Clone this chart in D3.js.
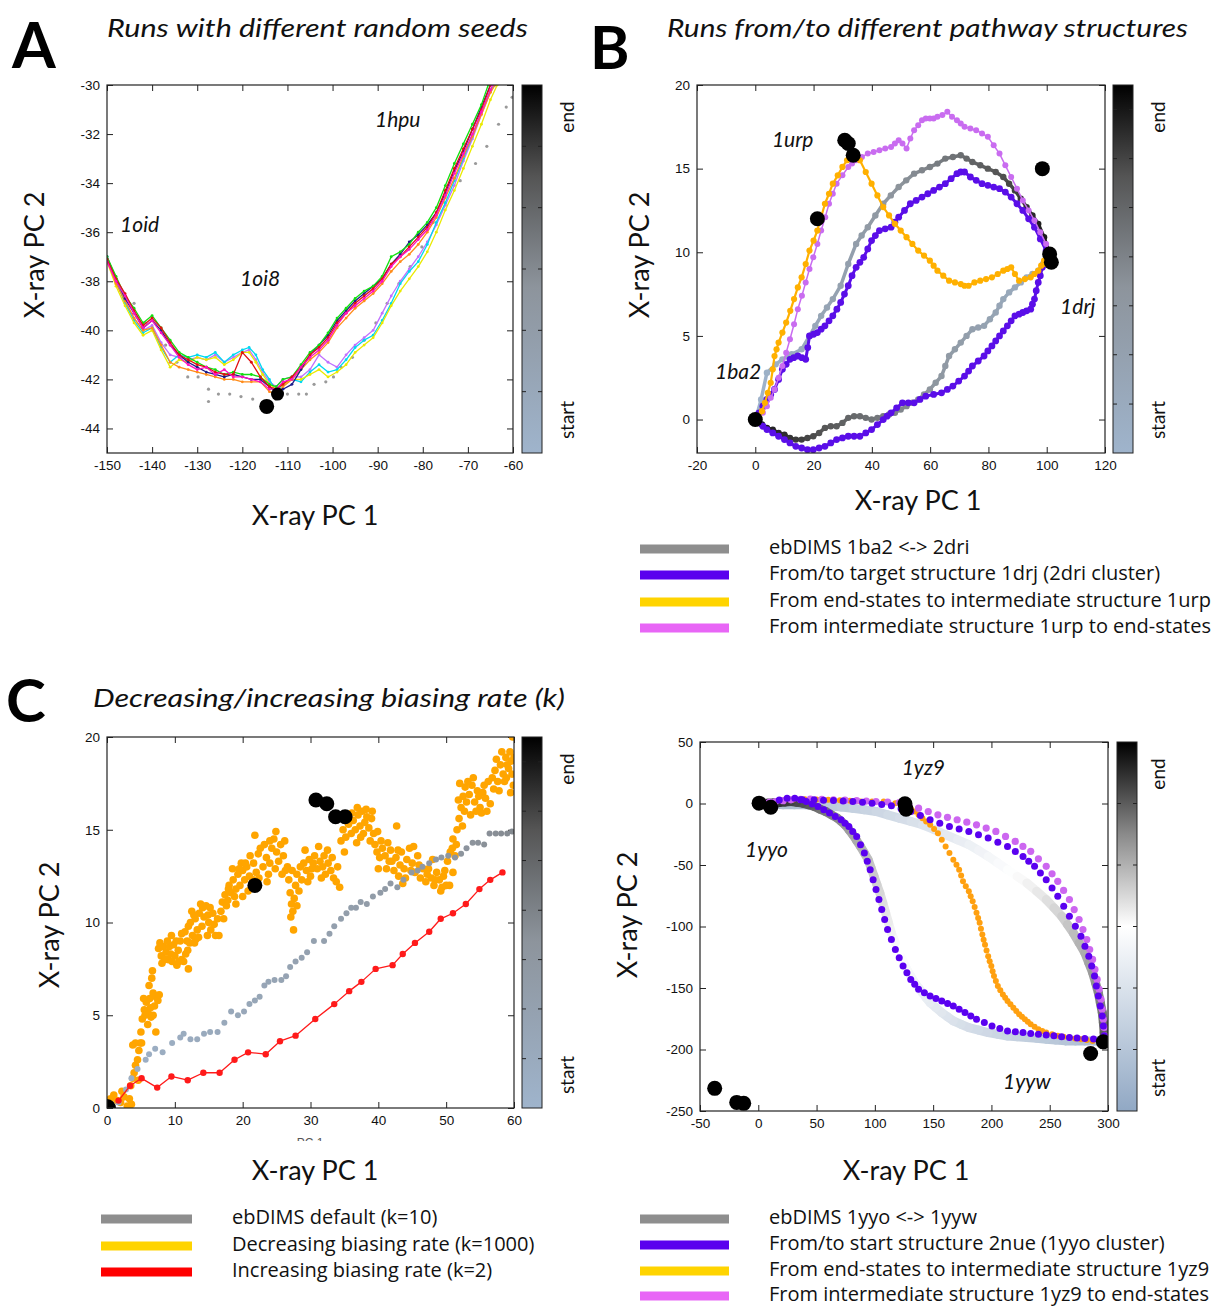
<!DOCTYPE html>
<html><head><meta charset="utf-8">
<script src="https://cdn.jsdelivr.net/npm/d3@7"></script>
<style>body{margin:0;background:#fff} svg{display:block}</style>
</head><body><svg id="c" width="1225" height="1306"></svg>
<script>
// ---------------- DATA ----------------
// Panel A ticks
const A_xTicks = [-150,-140,-130,-120,-110,-100,-90,-80,-70,-60];
const A_yTicks = [-44,-42,-40,-38,-36,-34,-32,-30];
// Panel A runs (random seeds)
const A_green = [[-150,-37.0],[-148,-37.8],[-146,-38.6],[-144,-39.1],[-142,-39.7],[-140,-39.4],[-138,-39.9],[-136,-40.4],[-134,-40.9],[-132,-41.1],[-130,-41.3],[-128,-41.5],[-126,-41.6],[-124,-41.8],[-122,-41.7],[-120,-41.8],[-118,-41.8],[-116,-41.9],[-114,-42.2],[-112.5,-42.3],[-111,-42.0],[-109,-41.9],[-107,-41.4],[-105,-40.9],[-103,-40.6],[-101,-40.1],[-99,-39.5],[-97,-39.1],[-95,-38.7],[-93,-38.4],[-91,-38.2],[-89,-37.8],[-87,-37.0],[-85,-36.8],[-83,-36.5],[-81,-36.0],[-79,-35.6],[-77,-35.0],[-75,-34.1],[-73,-33.2],[-71,-32.4],[-69,-31.6],[-67,-30.8],[-65.5,-30.0]];
const A_red = [[-150,-37.1],[-148,-37.9],[-146,-38.5],[-144,-39.2],[-142,-39.8],[-140,-39.5],[-138,-39.9],[-136,-40.5],[-134,-41.0],[-132,-41.2],[-130,-41.4],[-128,-41.5],[-126,-41.7],[-124,-41.8],[-122,-41.8],[-120,-40.9],[-118,-41.3],[-116,-41.9],[-114,-42.3],[-112.5,-42.4],[-111,-42.2],[-109,-41.9],[-107,-41.5],[-105,-41.0],[-103,-40.7],[-101,-40.3],[-99,-39.7],[-97,-39.3],[-95,-38.9],[-93,-38.6],[-91,-38.3],[-89,-37.9],[-87,-37.3],[-85,-37.0],[-83,-36.6],[-81,-36.2],[-79,-35.8],[-77,-35.2],[-75,-34.3],[-73,-33.4],[-71,-32.6],[-69,-31.8],[-67,-31.0],[-65,-30.0]];
const A_navy = [[-150,-37.0],[-148,-37.9],[-146,-38.7],[-144,-39.3],[-142,-39.9],[-140,-39.6],[-138,-40.0],[-136,-40.6],[-134,-41.0],[-132,-41.3],[-130,-41.5],[-128,-41.7],[-126,-41.8],[-124,-41.9],[-122,-41.8],[-120,-41.9],[-118,-42.0],[-116,-42.0],[-114,-42.3],[-112.5,-42.5],[-111,-42.4],[-109,-42.2],[-107,-41.6],[-105,-41.0],[-103,-40.6],[-101,-40.2],[-99,-39.6],[-97,-39.2],[-95,-38.8],[-93,-38.5],[-91,-38.2],[-89,-37.9],[-87,-37.3],[-85,-36.9],[-83,-36.4],[-81,-36.1],[-79,-35.7],[-77,-35.2],[-75,-34.4],[-73,-33.5],[-71,-32.7],[-69,-31.8],[-67,-30.9],[-65,-30.0]];
const A_magenta = [[-150,-37.2],[-148,-38.0],[-146,-38.6],[-144,-39.3],[-142,-39.9],[-140,-39.6],[-138,-40.1],[-136,-40.6],[-134,-41.1],[-132,-41.4],[-130,-41.6],[-128,-41.5],[-126,-41.8],[-124,-41.6],[-122,-41.9],[-120,-41.9],[-118,-42.0],[-116,-42.1],[-114,-42.4],[-112.5,-42.4],[-111,-42.1],[-109,-42.0],[-107,-41.5],[-105,-41.1],[-103,-40.8],[-101,-40.4],[-99,-39.8],[-97,-39.3],[-95,-39.0],[-93,-38.7],[-91,-38.4],[-89,-38.0],[-87,-37.4],[-85,-37.0],[-83,-36.7],[-81,-36.3],[-79,-35.9],[-77,-35.3],[-75,-34.5],[-73,-33.6],[-71,-32.8],[-69,-32.0],[-67,-31.1],[-65,-30.2],[-64.5,-30.0]];
const A_orange = [[-150,-37.1],[-148,-38.1],[-146,-38.8],[-144,-39.5],[-142,-40.0],[-140,-39.9],[-138,-40.6],[-136,-41.3],[-134,-41.5],[-132,-41.6],[-130,-41.7],[-128,-41.8],[-126,-41.9],[-124,-42.0],[-122,-42.0],[-120,-42.1],[-118,-42.1],[-116,-42.1],[-114,-42.5],[-112.5,-42.6],[-111,-42.3],[-109,-42.0],[-107,-41.6],[-105,-41.2],[-103,-40.9],[-101,-40.5],[-99,-39.9],[-97,-39.5],[-95,-39.1],[-93,-38.8],[-91,-38.5],[-89,-38.1],[-87,-37.6],[-85,-37.2],[-83,-36.9],[-81,-36.5],[-79,-36.0],[-77,-35.4],[-75,-34.6],[-73,-33.8],[-71,-32.9],[-69,-32.1],[-67,-31.2],[-65,-30.3],[-64,-30.0]];
const A_violet = [[-150,-37.1],[-148,-38.0],[-146,-38.8],[-144,-39.5],[-142,-40.0],[-140,-39.8],[-138,-40.5],[-136,-41.0],[-134,-41.1],[-132,-41.2],[-130,-41.1],[-128,-41.2],[-126,-41.0],[-124,-41.3],[-122,-41.1],[-120,-40.9],[-118.5,-40.8],[-117,-41.2],[-115.5,-41.7],[-114,-42.1],[-112.5,-42.3],[-111,-42.0],[-109,-41.9],[-107,-41.9],[-105,-41.6],[-103,-41.0],[-101,-41.3],[-99,-41.5],[-97,-41.0],[-95,-40.6],[-93,-40.3],[-91,-40.0],[-89,-39.3],[-87,-38.6],[-85,-38.0],[-83,-37.5],[-81,-37.0],[-79,-36.4],[-77,-35.7],[-75,-34.9],[-73,-34.1],[-71,-33.1],[-69,-32.2],[-67,-31.2],[-65,-30.3],[-64,-30.0]];
const A_cyan = [[-150,-37.0],[-148,-38.0],[-146,-38.9],[-144,-39.6],[-142,-40.1],[-140,-39.9],[-138,-40.7],[-136,-41.3],[-134,-41.0],[-132,-41.1],[-130,-41.0],[-128,-41.1],[-126,-40.9],[-124,-41.3],[-122,-41.0],[-120,-40.8],[-118.5,-40.7],[-117,-41.0],[-115.5,-41.6],[-114,-42.0],[-112.5,-42.5],[-111,-42.2],[-109,-42.0],[-107,-42.1],[-105,-41.7],[-103,-41.4],[-101,-41.7],[-99,-41.6],[-97,-41.2],[-95,-40.7],[-93,-40.4],[-91,-40.2],[-89,-39.6],[-87,-38.9],[-85,-38.1],[-83,-37.6],[-81,-37.2],[-79,-36.5],[-77,-35.6],[-75,-34.8],[-73,-33.9],[-71,-33.0],[-69,-32.1],[-67,-31.1],[-65,-30.2],[-64,-30.0]];
const A_yellow = [[-150,-37.2],[-148,-38.2],[-146,-39.0],[-144,-39.7],[-142,-40.2],[-140,-40.0],[-138,-40.8],[-136,-41.5],[-134,-41.2],[-132,-41.3],[-130,-41.1],[-128,-41.2],[-126,-41.1],[-124,-41.4],[-122,-41.2],[-120,-40.9],[-118.5,-40.9],[-117,-41.3],[-115.5,-41.8],[-114,-42.2],[-112.5,-42.4],[-111,-42.2],[-109,-42.0],[-107,-42.0],[-105,-41.8],[-103,-41.6],[-101,-41.9],[-99,-41.7],[-97,-41.4],[-95,-40.9],[-93,-40.6],[-91,-40.3],[-89,-39.7],[-87,-39.0],[-85,-38.4],[-83,-37.9],[-81,-37.4],[-79,-36.8],[-77,-36.0],[-75,-35.1],[-73,-34.3],[-71,-33.4],[-69,-32.5],[-67,-31.6],[-65,-30.6],[-63.5,-30.0]];
const A_grayDots = [[-144,-38.9],[-141.5,-39.7],[-139.8,-40.0],[-137,-40.6],[-134.5,-41.3],[-132.1,-41.9],[-129.8,-41.9],[-127.5,-42.4],[-127.5,-42.9],[-125.3,-42.6],[-122.8,-42.6],[-120.3,-42.7],[-117.7,-42.8],[-115.1,-42.9],[-112.6,-42.8],[-110,-42.6],[-107.5,-42.6],[-105.8,-42.6],[-104.1,-42.2],[-101.5,-42.1],[-99.8,-41.9],[-98.1,-41.5],[-95.6,-41.1],[-93,-40.4],[-90.4,-39.7],[-87.9,-38.9],[-85.3,-38.1],[-82.8,-37.4],[-80.2,-36.6],[-77.7,-35.6],[-75.1,-34.8],[-71.7,-33.9],[-68.3,-33.2],[-65.8,-32.5],[-63.2,-31.6],[-61.5,-30.9],[-60.2,-30.5]];
const A_structs = [[-114.6,-43.1,7.5],[-112.2,-42.6,6.5]];
const A_labels = [["1hpu",-90.6,-31.7],["1oid",-147.1,-36.0],["1oi8",-120.5,-38.2]];

// Panel B
const B_xTicks = [-20,0,20,40,60,80,100,120];
const B_yTicks = [0,5,10,15,20];
const B_grayUp = [[0.6,0.3],[2,1.2],[4,2.8],[7,3.3],[9.3,3.6],[12.5,3.9],[15.9,4.2],[18.6,5.0],[20.6,5.6],[22.6,6.2],[24.6,6.7],[26.6,7.2],[29.3,8.0],[31.9,9.3],[34.6,10.5],[36.5,11.0],[38.6,11.5],[41.2,12.2],[43.9,12.9],[46.5,13.4],[49.2,13.9],[51.8,14.3],[54.5,14.7],[57.2,14.9],[59.9,15.1],[62.5,15.3],[65.2,15.6],[67.8,15.7],[70.5,15.8],[72.5,15.6],[74.5,15.4],[77.2,15.2],[79.8,15.0],[82.5,14.8],[85.1,14.5],[87.1,14.1],[89.1,13.7],[91.1,13.2],[93.1,12.7],[95.1,12.2],[97.1,11.7],[99.1,10.9],[100.6,10.1]];
const B_grayLow = [[100.3,9.7],[98.7,9.3],[97.1,8.9],[95.1,8.7],[93.1,8.5],[91.1,8.2],[89.1,7.9],[87.1,7.6],[85.1,7.2],[83.8,6.8],[82.5,6.4],[80.5,6.0],[78.5,5.6],[76.5,5.5],[74.5,5.4],[72.5,5.0],[70.5,4.6],[68.5,4.2],[66.5,3.8],[65.2,3.2],[63.9,2.6],[61.9,2.2],[59.9,1.8],[57.9,1.5],[55.9,1.2],[53.9,1.0],[51.9,0.8],[49.9,0.6],[47.9,0.4],[45.9,0.3],[43.9,0.2],[41.9,0.1],[39.9,0.0],[37.9,0.1],[35.9,0.2],[33.9,0.2],[31.9,0.1],[29.9,-0.2],[27.9,-0.4],[25.9,-0.4],[23.9,-0.5],[21.9,-0.8],[19.9,-1.0],[17.9,-1.1],[15.9,-1.2],[13.9,-1.2],[11.9,-1.1],[10,-0.9],[8,-0.8],[6,-0.6],[4,-0.5],[2.3,-0.3],[0.6,-0.2]];
const B_purpleUp = [[1.3,0.4],[2.6,0.8],[4,1.2],[5.3,1.5],[6.6,1.8],[8,2.4],[9.3,3.0],[10.6,3.3],[11.9,3.6],[13.2,3.7],[14.6,3.8],[16,3.7],[17.3,3.6],[18,4.3],[18.6,5.0],[20,5.1],[21.3,5.2],[22.6,5.4],[23.9,5.6],[25.3,5.9],[26.6,6.2],[28,6.6],[29.3,7.0],[30.6,7.5],[31.9,8.0],[33.2,8.6],[34.6,9.1],[35.9,9.4],[37.2,9.7],[38.6,10.2],[39.9,10.7],[41.2,11.0],[42.6,11.3],[44.6,11.4],[46.6,11.5],[47.9,11.8],[49.2,12.1],[51.2,12.5],[53.2,12.9],[55.2,13.1],[57.2,13.3],[59.2,13.5],[61.2,13.7],[63.2,13.9],[65.2,14.1],[67.2,14.4],[69.2,14.7],[70.5,14.8],[71.8,14.8],[73.8,14.5],[75.8,14.3],[77.8,14.1],[79.8,14.0],[81.8,13.9],[83.8,13.8],[85.8,13.6],[87.8,13.3],[89.8,12.9],[91.8,12.5],[93.8,12.0],[95.8,11.5],[97.8,10.8],[99.8,10.1],[101.1,9.5]];
const B_purpleLow = [[99.8,9.3],[98.5,9.1],[97.8,8.6],[97.1,8.2],[96.4,7.7],[95.8,7.2],[95.1,6.9],[94.5,6.6],[93.1,6.5],[91.8,6.4],[90.5,6.3],[89.1,6.2],[87.8,5.9],[86.5,5.6],[85.1,5.3],[83.8,5.0],[82.5,4.7],[81.2,4.4],[79.8,4.1],[78.5,3.8],[76.5,3.5],[74.5,3.2],[73.2,2.9],[71.8,2.6],[69.8,2.3],[67.8,2.0],[65.9,1.8],[63.9,1.6],[61.2,1.5],[58.5,1.4],[56.5,1.2],[54.5,1.0],[52.5,1.0],[50.5,1.0],[48.5,0.7],[46.6,0.4],[45.2,0.2],[43.9,0.0],[41.9,-0.3],[39.9,-0.6],[37.9,-0.8],[35.9,-1.0],[33.9,-1.0],[31.9,-1.0],[29.9,-1.1],[27.9,-1.2],[25.9,-1.4],[23.9,-1.6],[21.9,-1.7],[19.9,-1.8],[17.9,-1.8],[15.9,-1.7],[13.9,-1.6],[11.9,-1.4],[10,-1.2],[8,-1.0],[6,-0.8],[4,-0.6],[2.6,-0.4],[1.3,-0.2]];
const B_orange = [[1.3,0.1],[2.3,0.5],[3.3,1.0],[4.3,1.6],[5.3,2.2],[6,3.0],[6.6,3.8],[7.3,4.2],[8,4.6],[9.3,5.2],[10.6,5.8],[12,6.5],[13.3,7.2],[14.6,7.9],[15.9,8.5],[17.3,9.3],[18.6,10.1],[20,10.7],[21.3,11.3],[22.6,12.1],[23.9,12.9],[25.3,13.5],[26.6,14.1],[28.3,14.6],[29.9,15.1],[31.5,15.5],[33.2,15.8],[34.6,15.7],[35.9,15.5],[37.9,14.8],[39.9,14.1],[41.9,13.4],[43.9,12.7],[45.9,12.2],[47.9,11.7],[49.9,11.3],[51.9,10.9],[53.9,10.5],[55.9,10.1],[57.9,9.8],[59.9,9.5],[61.2,9.2],[62.5,8.9],[64.5,8.6],[66.5,8.3],[68.5,8.2],[70.5,8.1],[71.8,8.0],[73.2,8.0],[75.2,8.2],[77.2,8.3],[79.2,8.4],[81.2,8.5],[83.2,8.7],[85.1,8.9],[86.5,9.0],[87.8,9.1],[89.1,8.7],[90.5,8.3],[92.5,8.4],[94.5,8.5],[95.8,8.7],[97.1,8.9],[98.1,9.2],[99.1,9.5],[99.8,9.3]];
const B_pink = [[2.6,0.4],[4,0.8],[5.3,1.3],[6.6,1.8],[8,2.5],[9.3,3.2],[10.6,4.0],[11.9,4.8],[13.3,5.7],[14.6,6.6],[16,7.4],[17.3,8.2],[18.6,9.0],[19.9,9.7],[21.3,10.5],[22.6,11.3],[24,12.1],[25.3,12.9],[26.6,13.5],[27.9,14.1],[29.9,14.6],[31.9,15.1],[33.2,15.3],[34.6,15.5],[36.6,15.7],[38.6,15.9],[40.6,16.0],[42.6,16.1],[44.6,16.2],[46.6,16.3],[47.9,16.5],[49.2,16.7],[50.5,16.5],[51.9,16.2],[53.2,16.8],[54.5,17.3],[55.9,17.6],[57.2,17.9],[58.5,18.0],[59.9,18.0],[61.2,18.0],[62.5,18.1],[64.2,18.2],[65.9,18.4],[67.5,18.1],[69.2,17.9],[70.5,17.7],[71.8,17.5],[73.8,17.4],[75.8,17.3],[77.8,17.1],[79.8,16.9],[81.8,16.4],[83.8,15.9],[85.8,15.2],[87.8,14.5],[89.8,13.8],[91.8,13.1],[93.8,12.5],[95.8,11.9],[97.8,11.2],[99.8,10.5],[101.1,10.0]];
const B_structs = [[30.7,16.7],[31.9,16.5],[33.6,15.8],[21.3,12.0],[98.5,15.0],[101,9.9],[101.6,9.4],[0,0]];
const B_labels = [["1urp",5.7,16.3],["1drj",104.6,6.3],["1ba2",-13.8,2.4]];
const B_legend = ["ebDIMS 1ba2 <-> 2dri","From/to target structure 1drj (2dri cluster)","From end-states to intermediate structure 1urp","From intermediate structure 1urp to end-states"];

// Panel C
const C_xTicks = [0,10,20,30,40,50,60];
const C_yTicks = [0,5,10,15,20];
const C_red = [[1.7,0.4],[3.4,1.2],[5.1,1.6],[7.4,1.1],[9.5,1.7],[11.9,1.5],[14.2,1.9],[16.6,1.9],[18.8,2.6],[20.8,3.0],[23.4,2.9],[25.5,3.6],[27.8,3.9],[30.7,4.8],[33.5,5.6],[35.7,6.3],[37.5,6.8],[39.6,7.5],[42.1,7.7],[43.6,8.3],[45.4,8.9],[47.5,9.5],[49.2,10.2],[51.0,10.5],[52.9,11.0],[54.9,11.8],[56.5,12.3],[58.3,12.7]];
const C_gray = [[1.7,0.3],[2.8,1.0],[3.6,1.6],[4.5,2.1],[5.7,2.6],[6.2,2.9],[7.1,3.2],[8.2,3.0],[9.6,3.5],[10.8,3.8],[11.3,4.0],[12.3,3.7],[13.3,3.7],[14.3,4.0],[15.2,4.1],[16.3,4.1],[17.3,4.6],[18.3,5.2],[19.3,5.0],[20.2,5.2],[21.0,5.6],[21.8,5.8],[22.5,6.0],[23.2,6.6],[23.8,6.8],[24.7,6.9],[25.7,6.9],[26.4,7.1],[27.0,7.6],[27.8,7.9],[28.7,8.1],[29.5,8.4],[30.5,9.0],[32.0,9.0],[32.8,9.4],[33.5,9.8],[34.5,10.2],[35.3,10.5],[36.0,10.8],[36.7,10.8],[37.4,11.1],[38.3,11.0],[39.2,11.4],[40.3,11.6],[41.0,11.8],[41.8,12.1],[42.8,11.9],[43.7,12.3],[44.9,12.7],[45.8,12.8],[46.5,13.0],[47.5,13.2],[48.5,13.4],[49.3,13.5],[50.3,13.6],[51.3,13.5],[52.2,13.7],[53.0,14.0],[53.9,14.3],[54.7,14.3],[55.6,14.2],[56.4,14.8],[57.3,14.8],[58.1,14.8],[59.0,14.8],[59.7,14.9]];
const C_orange = [[0.5,0.5],[1,0.7],[1.5,0.4],[2,0.3],[2.5,0.6],[3,0.1],[3.3,0.5],[3.6,0.2],[3.2,0.0],[2.2,0.9],[3.5,1.2],[3.8,1.6],[4.0,1.9],[4.2,2.3],[4.5,2.6],[4.7,3.1],[4.9,3.5],[3.8,3.4],[4.2,3.5],[5.0,4.1],[5.1,3.5],[4.6,1.5],[5.2,4.8],[5.5,5.3],[5.8,5.7],[6.0,5.2],[6.3,5.9],[6.5,4.9],[6.8,6.2],[7.0,5.5],[7.2,6.0],[6.0,4.5],[6.2,6.6],[6.8,5.0],[7.5,5.8],[5.6,5.0],[6.6,7.0],[6.7,7.4],[7.7,6.1],[7.2,4.1],[5.4,5.9],[6.4,5.4],[7.6,8.6],[7.8,8.9],[8.0,8.2],[8.3,8.7],[8.7,8.4],[9.0,8.0],[9.2,8.7],[9.5,9.3],[9.8,8.8],[10.0,8.2],[10.3,7.7],[10.5,8.5],[10.8,9.0],[11.0,8.0],[11.3,7.9],[11.6,8.3],[12.0,7.5],[11.0,9.4],[12.2,8.9],[10.6,7.9],[11.9,8.5],[8.5,8.0],[9.4,8.3],[11.5,9.5],[12.0,9.8],[12.3,10.0],[12.6,9.3],[13.0,10.2],[13.3,9.6],[13.6,10.5],[14.0,9.8],[14.3,10.3],[14.6,10.9],[15.0,10.0],[15.3,9.6],[14.8,9.3],[15.6,10.5],[16.0,9.3],[16.5,9.3],[13.8,11.0],[12.5,10.6],[15.2,10.8],[13.1,9.1],[16.8,10.6],[17.0,11.1],[17.4,11.5],[17.8,11.2],[18.0,12.0],[18.3,11.6],[18.6,12.3],[19.0,11.8],[19.3,12.6],[19.6,12.0],[20.0,12.8],[20.3,12.3],[20.6,13.0],[21.0,12.5],[21.3,11.9],[21.6,13.2],[22.0,12.7],[19.0,11.0],[20.0,11.4],[18.5,12.9],[22.3,13.7],[21.8,14.7],[22.6,14.0],[17.6,10.9],[20.8,11.7],[19.8,13.2],[23.0,13.0],[23.5,13.5],[24.0,13.2],[24.3,14.0],[24.6,14.5],[25.0,13.8],[25.3,13.3],[25.6,14.2],[26.0,13.6],[26.3,12.8],[26.6,13.0],[24.8,12.9],[23.8,12.6],[24.0,14.4],[26.8,12.3],[27.0,11.6],[27.2,11.0],[27.4,10.6],[27.6,11.3],[27.8,12.0],[28.0,12.6],[28.3,11.7],[28.5,13.0],[27.5,9.6],[27.3,12.8],[28.0,10.9],[27.1,10.3],[29.0,13.2],[29.4,12.8],[29.8,13.4],[30.2,12.9],[30.6,13.6],[31.0,12.9],[31.4,13.3],[31.8,13.0],[32.2,12.6],[32.6,13.2],[33.0,12.8],[33.4,12.4],[33.8,12.2],[31.2,14.1],[32.5,13.9],[34.3,11.9],[30.0,12.5],[34.5,14.4],[34.8,15.0],[35.2,14.6],[35.6,15.3],[36.0,14.8],[36.3,15.5],[36.6,15.0],[37.0,15.8],[37.3,15.2],[37.6,16.0],[38.0,15.4],[38.3,15.7],[38.6,15.1],[39.0,15.6],[39.3,14.8],[35.0,13.8],[36.8,14.3],[38.8,14.4],[37.8,14.8],[39.5,14.2],[39.8,13.8],[40.2,13.5],[40.6,14.0],[41.0,13.6],[41.4,14.3],[41.8,13.9],[40.0,12.9],[41.2,12.9],[42.0,13.3],[42.3,12.8],[42.6,13.5],[43.0,12.5],[43.4,13.8],[43.8,12.9],[44.2,13.4],[44.6,14.0],[45.0,13.2],[45.4,12.7],[45.8,13.6],[46.2,12.4],[46.6,12.9],[42.7,15.2],[43.6,12.1],[47.0,12.2],[47.4,12.9],[47.8,12.4],[48.2,12.0],[48.6,12.7],[49.0,12.3],[49.4,11.9],[49.8,12.8],[50.2,13.3],[48.0,13.4],[50.5,12.0],[49.2,11.7],[50.6,13.8],[51.0,14.5],[51.3,13.6],[51.6,15.0],[51.9,15.6],[52.2,16.2],[52.5,16.8],[51.8,16.6],[52.8,17.3],[53.0,16.5],[52.4,15.2],[51.0,12.7],[52.0,17.5],[53.4,16.9],[53.8,17.4],[54.2,16.5],[54.6,17.1],[55.0,16.2],[55.4,17.0],[55.8,16.7],[56.2,17.6],[54.0,17.8],[55.2,15.9],[56.5,16.4],[53.6,15.8],[56.8,17.8],[57.2,18.2],[57.6,17.6],[58.0,18.5],[58.4,18.0],[58.8,18.9],[59.2,18.3],[59.6,18.7],[59.9,17.4],[59.5,17.0],[58.2,19.2],[59.8,20.0],[57.8,17.1],[58.9,17.8],[59.4,19.2],
  [12.8,10.4],[13.5,9.2],[14.1,10.8],[14.9,10.4],[15.8,9.9],[16.3,10.2],[11.8,9.0],[12.9,8.9],[10.2,9.0],[9.6,7.9],[8.9,9.0],[8.1,7.8],[17.2,10.2],[17.9,11.8],[18.8,11.4],[19.5,12.9],[20.4,13.2],[21.1,13.6],[21.5,12.3],[22.4,12.4],[23.2,14.2],[23.6,12.2],[24.9,14.9],[25.8,12.6],[26.2,14.4],[28.7,12.3],[29.2,13.9],[29.6,12.2],[30.4,13.2],[31.6,12.4],[32.0,13.6],[33.2,13.5],[34.0,13.0],[35.4,15.8],[36.1,15.9],[36.9,16.2],[37.4,14.6],[38.2,16.1],[39.1,16.0],[39.9,14.9],[40.4,14.4],[41.6,13.3],[42.9,13.9],[43.2,13.1],[44.0,12.4],[44.8,12.8],[45.2,14.1],[46.0,13.1],[47.2,12.6],[48.4,12.3],[49.6,12.5],[50.0,12.0],[50.9,14.0],[51.5,14.2],[52.7,16.0],[53.2,17.6],[54.4,16.0],[54.8,16.8],[55.6,17.4],[56.0,16.0],[57.0,17.2],[57.4,18.8],[58.6,17.6],[59.0,18.5],[59.7,18.0],[60,18.9]];
const C_structs = [[0,0,9],[21.8,12.0,7.5],[30.8,16.6,7.5],[32.4,16.4,7.5],[33.7,15.7,7.5],[35.1,15.7,7.5]];
const C_legend = ["ebDIMS default (k=10)","Decreasing biasing rate (k=1000)","Increasing biasing rate (k=2)"];

// Panel D
const D_xTicks = [-50,0,50,100,150,200,250,300];
const D_yTicks = [-250,-200,-150,-100,-50,0,50];
const D_grayUp = [[1.4,0.3],[11,-0.4],[21.3,-1.1],[31,-1.1],[41.2,-1.1],[51,-1.5],[61.1,-1.9],[71,-2.8],[81.1,-3.8],[91,-5.1],[101,-6.5],[111,-9.2],[120.9,-11.9],[131,-14.6],[140.8,-17.3],[151,-21.3],[160.7,-25.4],[171,-29.5],[180.6,-33.5],[189,-38.2],[197.2,-43],[205.5,-48.4],[213.8,-53.8],[222,-59.2],[230.4,-64.6],[238.7,-71.3],[247,-78.1],[253.6,-84.8],[260.2,-91.6],[265.2,-98.4],[270.2,-105.2],[275.2,-113.3],[280.1,-121.4],[283.5,-129.5],[286.8,-137.6],[289.3,-145.7],[291.7,-153.8],[293.4,-161.9],[295.1,-170],[296,-178],[296.7,-186.2],[296.7,-193]];
const D_grayLow = [[296.7,-193],[288,-193],[280.1,-193],[272,-193],[263.5,-193],[255,-192.3],[247,-191.6],[238.7,-190.9],[230.4,-190.3],[222,-189.6],[213.8,-189],[205.5,-187.6],[197.2,-186.2],[189,-184.2],[180.6,-182.2],[174,-179.5],[167.3,-176.8],[162.4,-173.4],[157.4,-170],[152.4,-166],[147.4,-161.9],[144,-157.9],[140.8,-153.8],[137.5,-149.8],[134.2,-145.7],[130.8,-140.3],[127.5,-134.9],[124.2,-128.2],[120.9,-121.4],[117.6,-113.3],[114.2,-105.2],[111.7,-97],[109.3,-88.9],[106.8,-80.8],[104.3,-72.7],[101.8,-66],[99.3,-59.2],[96.8,-52.5],[94.3,-45.7],[91,-40.3],[87.7,-34.9],[84.4,-30.2],[81.1,-25.4],[77.8,-21.3],[74.4,-17.3],[71.1,-14.6],[67.8,-11.9],[62.8,-9.2],[57.8,-6.5],[52.8,-4.5],[47.9,-2.4],[42.9,-1],[37.9,0.3],[33,1],[28,1.6],[23,1.2],[18,0.8],[13,0.5],[8.1,0.3],[1.4,0.3]];
const D_purpleUp = [[11.4,0.3],[18,2.9],[24.7,4.3],[31.3,4.3],[37.9,3],[47.9,3],[56,2.7],[64.5,2.4],[72.8,2],[81.1,1.6],[89.4,1],[97.6,0.3],[105.9,-0.8],[114.2,-1.9],[122.5,-4.2],[130.8,-6.5],[139.1,-9.8],[147.4,-13.2],[155.7,-16],[164,-18.7],[172.3,-20.7],[180.6,-22.7],[188.9,-25.4],[197.2,-28.1],[205.5,-31.5],[213.8,-34.9],[220.5,-39],[227.1,-43],[232,-47],[237,-51.1],[242,-56.5],[247,-61.9],[252,-68.6],[256.9,-75.4],[262,-83.5],[266.9,-91.6],[272,-99.8],[276.8,-107.9],[280.2,-116],[283.5,-124.1],[286,-132.2],[288.4,-140.3],[290,-148.4],[291.7,-156.5],[293.4,-164.6],[295.1,-172.7],[296,-180.8],[296.7,-188.9]];
const D_purpleLow = [[36.3,3.0],[41.2,1.6],[46.2,-0.4],[51.2,-2.4],[56.2,-5.1],[61.1,-7.8],[66,-10.5],[71,-13.2],[74.4,-16],[77.7,-18.7],[81,-22.7],[84.4,-26.8],[87.7,-33.5],[91,-40.3],[93.5,-47],[96,-53.8],[98.5,-61.9],[101,-70],[103.5,-78.1],[105.9,-86.2],[108.4,-94.3],[110.9,-102.4],[114.2,-110.5],[117.6,-118.7],[120.9,-125.4],[124.2,-132.2],[127.5,-137.6],[130.8,-143],[134.2,-147],[137.5,-151.1],[142.5,-153.8],[147.4,-156.5],[152.4,-158.6],[157.4,-160.6],[162.4,-162.6],[167.3,-164.6],[172.3,-167.3],[177.3,-170],[182.3,-172.7],[187.2,-175.4],[193.9,-178.1],[200.5,-180.8],[207.2,-182.9],[213.8,-184.9],[220.5,-185.6],[227.1,-186.2],[233.7,-186.9],[240.3,-187.6],[247,-188.3],[253.6,-188.9],[260.2,-189.6],[266.9,-190.3],[273.5,-190.7],[280.1,-191.1],[287.6,-191.4],[295.1,-191.6]];
const D_orange = [[30,3.2],[40,3.4],[50,3.3],[60,3.0],[70,2.6],[78.5,2.2],[87.7,1.6],[97.6,1.6],[107.6,1.6],[117.6,0.3],[122.5,-1.1],[127.5,-2.4],[131,-4.4],[134.2,-6.5],[137.5,-9.2],[140.8,-11.9],[144,-14.6],[147.4,-17.3],[150.8,-20.7],[154.1,-24.1],[157.4,-29.5],[160.7,-34.9],[164,-40.3],[167.3,-45.7],[170,-49.7],[172.3,-53.8],[174,-58.5],[175.6,-63.3],[178,-67.3],[180.6,-71.4],[182.2,-75.4],[183.9,-79.5],[185.6,-84.2],[187.2,-88.9],[188.6,-93],[189.9,-97],[191,-101.8],[192.2,-106.5],[193.3,-110.7],[194.5,-114.9],[195.8,-119.5],[197.2,-124.1],[198.5,-128.2],[199.9,-132.2],[201,-136.3],[202.2,-140.3],[203.8,-144.4],[205.5,-148.4],[207.6,-151.8],[209.8,-155.2],[211.8,-157.9],[213.8,-160.6],[216.3,-163.3],[218.8,-166],[221.3,-168.7],[223.8,-171.4],[226.2,-173.4],[228.7,-175.4],[231.2,-177.5],[233.7,-179.5],[237,-181.5],[240.3,-183.5],[243.6,-184.9],[247,-186.2],[252,-187.6],[256.9,-188.9],[261.9,-189.6],[266.9,-190.3],[271.8,-191],[276.8,-191.6],[281.8,-192.3],[286.8,-193]];
const D_pink = [[4.7,0.8],[9.7,1.2],[14.7,1.6],[21.3,2.3],[28,3],[36.3,3.3],[44.6,3.5],[54.5,3.3],[64.5,3],[74.4,2.7],[84.4,2.4],[92.7,2],[101,1.6],[111,1.2],[120.9,0.8],[129.2,-1.5],[137.5,-3.8],[145.8,-6.5],[154.1,-9.2],[162.3,-11.2],[170.6,-13.2],[178.9,-15.2],[187.2,-17.3],[195.5,-20],[203.8,-22.7],[212.1,-26.8],[220.4,-30.8],[227,-34.9],[233.7,-38.9],[240.3,-45],[247,-51.1],[252,-57.2],[256.9,-63.3],[261.9,-70.7],[266.9,-78.1],[271,-86.2],[275.2,-94.3],[278.5,-102.5],[281.8,-110.6],[284.3,-118.7],[286.8,-126.8],[288.8,-134.9],[290.7,-143],[292.4,-151.1],[294,-159.2],[295,-167.3],[296,-175.4],[296.7,-182.2],[297.3,-188.9]];
const D_structs = [[0.7,0.3],[10.7,-3],[125.8,-0.3],[126.8,-4.6],[296,-193.8],[285.1,-203.3],[-37.4,-231.6],[-18.5,-243],[-12.5,-243.8]];
const D_labels = [["1yz9",123,23],["1yyo",-11.4,-43.5],["1yyw",210,-232]];
const D_legend = ["ebDIMS 1yyo <-> 1yyw","From/to start structure 2nue (1yyo cluster)","From end-states to intermediate structure 1yz9","From intermediate structure 1yz9 to end-states"];

// ---------------- DRAWING ----------------
const svg = d3.select("#c");
const FT = "Lato, 'Noto Sans', sans-serif";
const FL = "'Open Sans', 'Noto Sans', sans-serif";
const FN = "'Liberation Sans', Arial, sans-serif";

const cmapA = d3.scaleLinear().domain([0,0.45,0.75,1]).range(["#9fb4cc","#8d949c","#555","#000"]);
const cmapD = d3.scaleLinear().domain([0,0.5,0.75,1]).range(["#91a8c4","#ffffff","#8a8a8a","#000"]);

const defs = svg.append("defs");
function gradient(id, cmap, stops){
  const lg = defs.append("linearGradient").attr("id",id).attr("x1",0).attr("y1",1).attr("x2",0).attr("y2",0);
  stops.forEach(s=>lg.append("stop").attr("offset",s).attr("stop-color",cmap(s)));
}
gradient("gA", cmapA, [0,0.25,0.45,0.6,0.75,0.9,1]);
gradient("gD", cmapD, [0,0.25,0.5,0.62,0.75,0.9,1]);

let clipN = 0;
function panel(xd, xr, yd, yr, xt, yt){
  const x = d3.scaleLinear().domain(xd).range(xr);
  const y = d3.scaleLinear().domain(yd).range(yr);
  const g = svg.append("g");
  const id = "clip"+(clipN++);
  defs.append("clipPath").attr("id",id).append("rect")
    .attr("x",xr[0]).attr("y",yr[1]).attr("width",xr[1]-xr[0]).attr("height",yr[0]-yr[1]);
  const axes = g.append("g");
  const fmt = d=>String(d);
  const ax = [
    axes.append("g").attr("transform",`translate(0,${yr[0]})`).call(d3.axisBottom(x).tickValues(xt).tickSize(-6).tickPadding(7).tickFormat(fmt)),
    axes.append("g").attr("transform",`translate(0,${yr[1]})`).call(d3.axisTop(x).tickValues(xt).tickSize(-6).tickFormat("")),
    axes.append("g").attr("transform",`translate(${xr[0]},0)`).call(d3.axisLeft(y).tickValues(yt).tickSize(-6).tickPadding(7).tickFormat(fmt)),
    axes.append("g").attr("transform",`translate(${xr[1]},0)`).call(d3.axisRight(y).tickValues(yt).tickSize(-6).tickFormat(""))
  ];
  ax.forEach(a=>{a.select(".domain").remove(); a.selectAll("text").attr("font-family",FN).attr("font-size",13.5).attr("fill","#111");
    a.selectAll("line").attr("stroke","#222");});
  const plot = g.append("g").attr("clip-path",`url(#${id})`);
  const top = g.append("g");
  top.append("rect").attr("x",xr[0]).attr("y",yr[1]).attr("width",xr[1]-xr[0]).attr("height",yr[0]-yr[1])
    .attr("fill","none").attr("stroke","#222").attr("stroke-width",1.2);
  return {x,y,g,plot,top};
}

function colorbar(x0, y0, y1, grad, ticks, labX){
  const w = 20;
  svg.append("rect").attr("x",x0).attr("y",y0).attr("width",w).attr("height",y1-y0)
    .attr("fill",`url(#${grad})`).attr("stroke","#222").attr("stroke-width",1);
  ticks.forEach(f=>{
    const yy = y1 - f*(y1-y0);
    svg.append("line").attr("x1",x0).attr("x2",x0+4).attr("y1",yy).attr("y2",yy).attr("stroke","#222");
    svg.append("line").attr("x1",x0+w-4).attr("x2",x0+w).attr("y1",yy).attr("y2",yy).attr("stroke","#222");
  });
  [["end",y0+32],["start",y1-33]].forEach(([t,yy])=>{
    svg.append("text").attr("transform",`translate(${labX},${yy}) rotate(-90)`).attr("text-anchor","middle")
      .attr("dy","0.35em").attr("font-family",FT).attr("font-size",19).attr("fill","#111").text(t);
  });
}

function lineDots(p, pts, color, lw, r){
  p.plot.append("path").datum(pts).attr("fill","none").attr("stroke",color).attr("stroke-width",lw)
    .attr("stroke-linejoin","round").attr("d",d3.line().x(d=>p.x(d[0])).y(d=>p.y(d[1])));
  if(r>0) p.plot.append("g").selectAll("circle").data(pts).join("circle")
    .attr("cx",d=>p.x(d[0])).attr("cy",d=>p.y(d[1])).attr("r",r).attr("fill",color);
}
function dots(p, pts, color, r, op){
  p.plot.append("g").selectAll("circle").data(pts).join("circle")
    .attr("cx",d=>p.x(d[0])).attr("cy",d=>p.y(d[1])).attr("r",r).attr("fill",color).attr("opacity",op||1);
}
function gradTrail(p, pts, cmap, t0, t1, lw, r, op){
  const n = pts.length;
  const g = p.plot.append("g").attr("opacity",op||1);
  const col = i=>cmap(t0+(t1-t0)*i/(n-1));
  if(lw>0) for(let i=0;i<n-1;i++){
    g.append("line").attr("x1",p.x(pts[i][0])).attr("y1",p.y(pts[i][1])).attr("x2",p.x(pts[i+1][0])).attr("y2",p.y(pts[i+1][1]))
      .attr("stroke",col(i)).attr("stroke-width",lw).attr("stroke-linecap","round");
  }
  if(r>0) pts.forEach((d,i)=>g.append("circle").attr("cx",p.x(d[0])).attr("cy",p.y(d[1])).attr("r",r).attr("fill",col(i)));
}
function structs(p, pts, rDef){
  p.plot.append("g").selectAll("circle").data(pts).join("circle")
    .attr("cx",d=>p.x(d[0])).attr("cy",d=>p.y(d[1])).attr("r",d=>d[2]||rDef).attr("fill","#000");
}
function labels(p, arr){
  arr.forEach(([t,xv,yv])=>p.top.append("text").attr("x",p.x(xv)).attr("y",p.y(yv))
    .attr("font-family",FT).attr("font-style","italic").attr("font-size",21).attr("fill","#111").text(t));
}
function text(x,y,t,opt){
  const e = svg.append("text").attr("x",x).attr("y",y).text(t).attr("fill","#111");
  Object.entries(opt).forEach(([k,v])=>e.attr(k,v));
  return e;
}
function legend(x0, x1, tx, ys, items, colors){
  items.forEach((t,i)=>{
    svg.append("rect").attr("x",x0).attr("y",ys[i]-4.5).attr("width",x1-x0).attr("height",9).attr("fill",colors[i]);
    text(tx, ys[i]+5, t, {"font-family":FL, "font-size":20});
  });
}

// ---- Panel A ----
const pA = panel([-150,-60],[107,513],[-45,-30],[453,85],A_xTicks,A_yTicks);
dots(pA, A_grayDots, "#9a9a9a", 1.6);
[[A_violet,"#c070ff"],[A_cyan,"#00d8f0"],[A_yellow,"#eaea00"],[A_orange,"#ff8c1a"],[A_navy,"#1c1c8a"],[A_green,"#10e010"],[A_red,"#e01010"],[A_magenta,"#ff10c0"]]
  .forEach(([d,c])=>lineDots(pA,d,c,1.3,1.4));
structs(pA, A_structs, 7);
labels(pA, A_labels);
colorbar(522, 85, 453, "gA", [1/6,2/6,3/6,4/6,5/6], 567);
text(107, 37, "Runs with different random seeds", {"font-family":FT,"font-style":"italic","font-size":26,"textLength":421,"lengthAdjust":"spacingAndGlyphs"});
text(12, 68, "A", {"font-family":FT,"font-weight":"bold","font-size":63,"fill":"#000"});
text(315, 525, "X-ray PC 1", {"font-family":FT,"font-size":27,"text-anchor":"middle"});
svg.append("text").attr("transform","translate(44,255) rotate(-90)").attr("text-anchor","middle").attr("font-family",FT).attr("font-size",27).attr("fill","#111").text("X-ray PC 2");

// ---- Panel B ----
const pB = panel([-20,120],[697,1105],[-2,20],[453,85],B_xTicks,B_yTicks);
gradTrail(pB, B_grayUp, cmapA, 0, 0.95, 3.5, 3.2);
gradTrail(pB, B_grayLow, cmapA, 0.05, 0.95, 3.5, 3.2);
lineDots(pB, B_purpleUp, "#5a0ee8", 3, 3.4);
lineDots(pB, B_purpleLow, "#5a0ee8", 3, 3.4);
lineDots(pB, B_pink, "#c96cf0", 1.5, 3);
lineDots(pB, B_orange, "#ffb000", 2.2, 3.1);
structs(pB, B_structs, 7.5);
labels(pB, B_labels);
colorbar(1113, 85, 453, "gA", [0.133,0.267,0.4,0.533,0.667,0.8,0.933], 1158);
text(667, 37, "Runs from/to different pathway structures", {"font-family":FT,"font-style":"italic","font-size":26,"textLength":521,"lengthAdjust":"spacingAndGlyphs"});
text(590, 69, "B", {"font-family":FT,"font-weight":"bold","font-size":60,"fill":"#000"});
text(918, 510, "X-ray PC 1", {"font-family":FT,"font-size":27,"text-anchor":"middle"});
svg.append("text").attr("transform","translate(649,255) rotate(-90)").attr("text-anchor","middle").attr("font-family",FT).attr("font-size",27).attr("fill","#111").text("X-ray PC 2");
legend(640, 729, 769, [549,575,602,628], B_legend, ["#8e8e8e","#5a00ee","#ffd400","#e866f6"]);

// ---- Panel C ----
const pC = panel([0,60],[107,514],[0,20],[1108,737],C_xTicks,C_yTicks);
dots(pC, C_orange, "#ffa500", 3.8);
gradTrail(pC, C_gray, cmapA, 0.05, 0.5, 0, 3);
lineDots(pC, C_red, "#ff1a1a", 1.3, 3.2);
structs(pC, C_structs, 7.5);
colorbar(522, 737, 1108, "gA", [0.133,0.267,0.4,0.533,0.667,0.8,0.933], 567);
text(93, 707, "Decreasing/increasing biasing rate (k)", {"font-family":FT,"font-style":"italic","font-size":26,"textLength":472,"lengthAdjust":"spacingAndGlyphs"});
text(6, 722, "C", {"font-family":FT,"font-weight":"bold","font-size":60,"fill":"#000"});
svg.append("defs").append("clipPath").attr("id","pcclip").append("rect").attr("x",280).attr("y",1130).attr("width",60).attr("height",11);
text(310, 1147, "PC 1", {"font-family":FN,"font-size":12,"text-anchor":"middle","fill":"#555","clip-path":"url(#pcclip)"});
text(315, 1180, "X-ray PC 1", {"font-family":FT,"font-size":27,"text-anchor":"middle"});
svg.append("text").attr("transform","translate(59,925) rotate(-90)").attr("text-anchor","middle").attr("font-family",FT).attr("font-size",27).attr("fill","#111").text("X-ray PC 2");
legend(101, 192, 232, [1219,1246,1272], C_legend, ["#8e8e8e","#ffd400","#ff0000"]);

// ---- Panel D ----
const pD = panel([-50,300],[700,1108],[-250,50],[1111,742],D_xTicks,D_yTicks);
gradTrail(pD, D_grayUp, cmapD, 0.02, 0.9, 9, 0, 0.85);
gradTrail(pD, D_grayLow, cmapD, 0.05, 1, 9, 0, 0.85);
dots(pD, D_orange, "#ffa010", 3);
dots(pD, D_pink, "#cc66f0", 3.6);
dots(pD, D_purpleUp, "#5a00f0", 3.5);
dots(pD, D_purpleLow, "#5a00f0", 3.5);
structs(pD, D_structs, 7.5);
labels(pD, D_labels);
colorbar(1117, 742, 1111, "gD", [1/6,2/6,3/6,4/6,5/6], 1158);
text(906, 1180, "X-ray PC 1", {"font-family":FT,"font-size":27,"text-anchor":"middle"});
svg.append("text").attr("transform","translate(637,915) rotate(-90)").attr("text-anchor","middle").attr("font-family",FT).attr("font-size",27).attr("fill","#111").text("X-ray PC 2");
legend(640, 729, 769, [1219,1245,1271,1296], D_legend, ["#8e8e8e","#5a00ee","#ffd400","#e866f6"]);
</script></body></html>
